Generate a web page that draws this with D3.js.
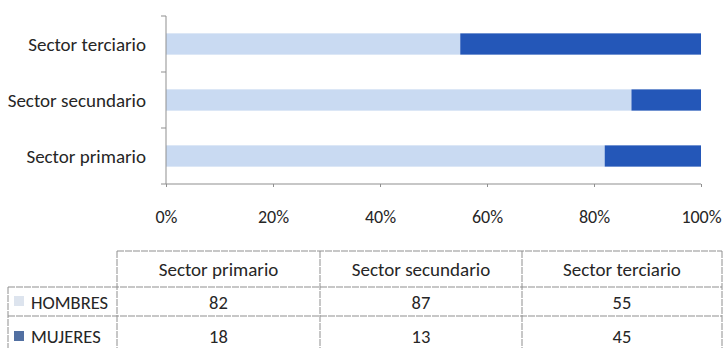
<!DOCTYPE html>
<html>
<head>
<meta charset="utf-8">
<script src="https://cdn.jsdelivr.net/npm/d3@7/dist/d3.min.js"></script>
<style>
  html, body { margin: 0; padding: 0; background: #fff; }
  svg { display: block; }
  text { font-family: Carlito, Lato, "Open Sans", sans-serif; fill: #262626; }
</style>
</head>
<body>
<svg id="chart" width="724" height="348"></svg>
<script>
// Employment by sector and sex (percent)
const categories = ["Sector primario", "Sector secundario", "Sector terciario"];
const seriesNames = ["HOMBRES", "MUJERES"];
const hombres = [82, 87, 55];
const mujeres = [18, 13, 45];
const tickValues = [0, 20, 40, 60, 80, 100];
const tickLabels = ["0%", "20%", "40%", "60%", "80%", "100%"];

const colors = { HOMBRES: "#c9daf2", MUJERES: "#2457b8" };
const keyColors = { HOMBRES: "#dde4ee", MUJERES: "#5270a2" };
const lineColor = "#8f8f8f";

const svg = d3.select("#chart");

const x = d3.scaleLinear().domain([0, 100]).range([166, 701]);
// terciario on top, primario at bottom
const y = d3.scaleBand()
  .domain(categories.slice().reverse())
  .range([16, 184])
  .paddingInner(0.62)
  .paddingOuter(0.31);

const rows = categories.map((c, i) => ({ cat: c, HOMBRES: hombres[i], MUJERES: mujeres[i] }));
const stacked = d3.stack().keys(seriesNames)(rows);

// stacked bars
svg.append("g").selectAll("g")
  .data(stacked)
  .join("g")
  .attr("fill", d => colors[d.key])
  .selectAll("rect")
  .data(d => d)
  .join("rect")
  .attr("x", d => x(d[0]))
  .attr("width", d => x(d[1]) - x(d[0]))
  .attr("y", d => y(d.data.cat))
  .attr("height", y.bandwidth());

// vertical axis line with ticks at band boundaries
const step = y.step();
const bounds = [16, 16 + step, 16 + 2 * step, 184];
const ya = svg.append("g");
ya.append("line")
  .attr("x1", 166).attr("x2", 166).attr("y1", 16).attr("y2", 184)
  .attr("stroke", lineColor);
ya.selectAll("line.tk").data(bounds).join("line").attr("class", "tk")
  .attr("x1", 161).attr("x2", 166)
  .attr("y1", d => d).attr("y2", d => d)
  .attr("stroke", lineColor);
ya.selectAll("text").data(categories).join("text")
  .attr("x", 146)
  .attr("y", d => y(d) + y.bandwidth() / 2)
  .attr("dy", "0.35em")
  .attr("text-anchor", "end")
  .attr("font-size", 19)
  .text(d => d);

// horizontal axis
const xa = svg.append("g").attr("transform", "translate(0,184)")
  .call(d3.axisBottom(x).tickValues(tickValues).tickSize(3).tickPadding(0)
    .tickFormat((d, i) => tickLabels[i]));
xa.select(".domain").attr("stroke", lineColor).attr("d", `M166,0H701`);
xa.selectAll(".tick line").attr("stroke", lineColor);
xa.selectAll(".tick text")
  .attr("y", 39).attr("dy", 0)
  .attr("font-size", 18)
  .attr("font-family", "Carlito, Lato, 'Open Sans', sans-serif")
  .attr("fill", "#262626");

// data table
const colEdges = [117, 320, 522, 722];
const rowEdges = [251, 287, 316, 360];
const tbl = svg.append("g")
  .attr("stroke", lineColor).attr("stroke-width", 1)
  .attr("stroke-dasharray", "7,1");

tbl.append("line").attr("x1", colEdges[0]).attr("x2", colEdges[3])
  .attr("y1", rowEdges[0]).attr("y2", rowEdges[0]);
[rowEdges[1], rowEdges[2]].forEach(yy =>
  tbl.append("line").attr("x1", 8).attr("x2", colEdges[3]).attr("y1", yy).attr("y2", yy));
colEdges.forEach(xx =>
  tbl.append("line").attr("x1", xx).attr("x2", xx).attr("y1", rowEdges[0]).attr("y2", 348));
tbl.append("line").attr("x1", 8).attr("x2", 8).attr("y1", rowEdges[1]).attr("y2", 348);

const colCenter = i => (colEdges[i] + colEdges[i + 1]) / 2;

svg.append("g").selectAll("text").data(categories).join("text")
  .attr("x", (d, i) => colCenter(i))
  .attr("y", 276)
  .attr("text-anchor", "middle")
  .attr("font-size", 19)
  .text(d => d);

const tableRows = [
  { name: "HOMBRES", values: hombres, base: 309, top: 296 },
  { name: "MUJERES", values: mujeres, base: 343, top: 331 }
];

tableRows.forEach(r => {
  svg.append("rect")
    .attr("x", 14).attr("y", r.top).attr("width", 10).attr("height", 10)
    .attr("fill", keyColors[r.name]);
  svg.append("text")
    .attr("x", 31).attr("y", r.base)
    .attr("font-size", 18.5)
    .text(r.name);
  svg.append("g").selectAll("text").data(r.values).join("text")
    .attr("x", (d, i) => colCenter(i))
    .attr("y", r.base)
    .attr("text-anchor", "middle")
    .attr("font-size", 18.5)
    .text(d => d);
});
</script>
</body>
</html>
